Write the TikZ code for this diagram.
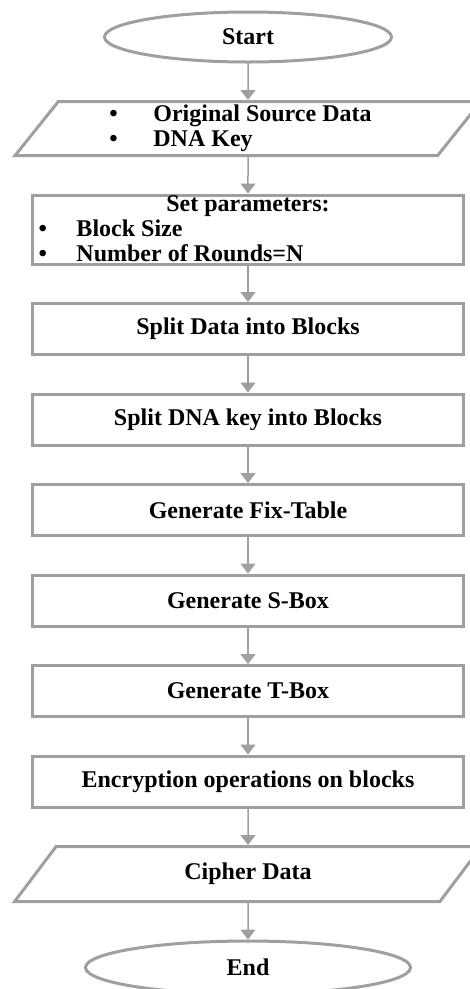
\documentclass[tikz,border=0pt]{standalone}
\usepackage{fontspec}
\setmainfont{Liberation Serif}
\usetikzlibrary{arrows.meta,positioning,shapes.geometric}

\begin{document}
\begin{tikzpicture}[
  font=\fontsize{24}{25}\selectfont\bfseries,
  node distance = 36.5pt,
  terminal/.style={ellipse, draw=gray!75, line width=3pt, inner sep=0pt},
  io/.style={trapezium, draw=gray!75, line width=3pt, inner sep=0pt,
             trapezium left angle=57.7, trapezium right angle=122.3,
             trapezium stretches=true, minimum width=467pt, minimum height=54pt},
  process/.style={rectangle, draw=gray!75, line width=3pt, inner sep=0pt,
                  minimum width=431pt, minimum height=51pt},
  arrow/.style={-{Triangle[length=10pt,width=15pt]}, line width=1.5pt, draw=gray!75}
]
\useasboundingbox (0,0) rectangle (470pt,-989pt);

% ===== terminals, input and set-up =====
\node[terminal, minimum width=287pt, minimum height=50pt] (start) at (248pt,-37pt) {Start};
\node[io, below=of start] (input) {\begin{tabular}{@{}p{44pt}@{}l@{\hspace{15pt}}}
  \textbullet & Original Source Data\\
  \textbullet & DNA Key
\end{tabular}};
\node[process, below=of input, minimum height=69pt, inner xsep=6pt] (params) {\raisebox{-8pt}[0pt][0pt]{%
\begin{tabular}{@{}p{38pt}@{}p{381pt}@{}}
  \multicolumn{2}{@{}c@{}}{Set parameters:}\\
  \textbullet & Block Size\\
  \textbullet & Number of Rounds=N
\end{tabular}}};

% ===== processing steps =====
\node[process, below=of params] (splitdata) {Split Data into Blocks};
\node[process, below=of splitdata] (splitkey) {Split DNA key into Blocks};
\node[process, below=of splitkey] (fixtable) {Generate Fix-Table};
\node[process, below=of fixtable] (sbox) {Generate S-Box};
\node[process, below=of sbox] (tbox) {Generate T-Box};
\node[process, below=of tbox] (encrypt) {Encryption operations on blocks};

% ===== output =====
\node[io, below=of encrypt, minimum height=55pt] (cipher) {Cipher Data};
\node[terminal, below=of cipher, minimum width=325pt, minimum height=53pt] (stop) {End};

% arrows
\draw[arrow] (start) -- (input);
\draw[arrow] (input) -- (params);
\draw[arrow] (params) -- (splitdata);
\draw[arrow] (splitdata) -- (splitkey);
\draw[arrow] (splitkey) -- (fixtable);
\draw[arrow] (fixtable) -- (sbox);
\draw[arrow] (sbox) -- (tbox);
\draw[arrow] (tbox) -- (encrypt);
\draw[arrow] (encrypt) -- (cipher);
\draw[arrow] (cipher) -- (stop);

\end{tikzpicture}
\end{document}
